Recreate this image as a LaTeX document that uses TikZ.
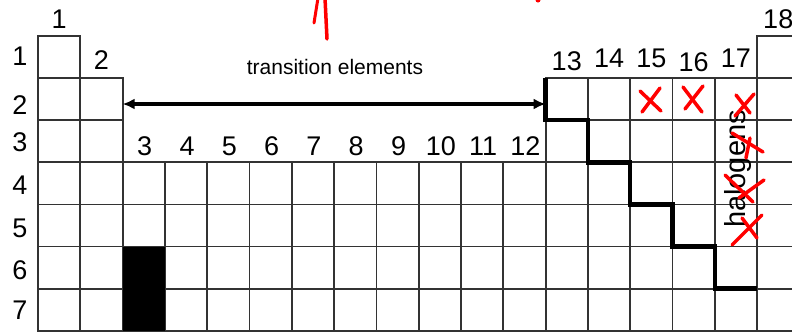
\documentclass[tikz,border=0pt]{standalone}
\usepackage{fontspec}
\setmainfont{Liberation Sans}
\usetikzlibrary{arrows.meta}

\begin{document}
\begin{tikzpicture}[x=1pt,y=-1pt, % 1 unité = 1 px de l'image, y vers le bas
  cellule/.style={draw=black!80, line width=1.8pt},
  chiffre/.style={font=\fontsize{27}{31}\selectfont, inner sep=0pt},
  fleche/.style={{Latex[length=12pt,width=11pt]}-{Latex[length=12pt,width=11pt]}, line width=3.3pt},
  escalier/.style={line width=4.5pt},
  croix/.style={red, line width=3.5pt, line cap=round}]

% --------- PARAMÈTRES ----------
\def\xo{38}     % bord gauche colonne 1
\def\yo{36}     % haut de la période 1
\def\cw{42.3}   % largeur d'une case
\def\rh{42.1}   % hauteur d'une case
% --------------------------------

\clip (0,0) rectangle (792,333);

% Cases : période 1
\foreach \c in {1,18}{
  \draw[cellule] ({\xo+(\c-1)*\cw},\yo) rectangle ++(\cw,\rh);
}
% Cases : périodes 2 et 3
\foreach \r in {2,3}{
  \foreach \c in {1,2,13,14,15,16,17,18}{
    \draw[cellule] ({\xo+(\c-1)*\cw},{\yo+(\r-1)*\rh}) rectangle ++(\cw,\rh);
  }
}
% Cases : périodes 4 à 7
\foreach \r in {4,...,7}{
  \foreach \c in {1,...,18}{
    \draw[cellule] ({\xo+(\c-1)*\cw},{\yo+(\r-1)*\rh}) rectangle ++(\cw,\rh);
  }
}

% Case noire (colonne 3, périodes 6-7)
\fill ({\xo+2*\cw},{\yo+5*\rh}) rectangle ++(\cw,{2*\rh});

% Numéros des groupes
\node[chiffre] (g1) at ({\xo+0.5*\cw},19) {1};
\node[chiffre] (g2) at ({\xo+1.5*\cw},60) {2};
\foreach \c in {3,...,12}{
  \node[chiffre] (g\c) at ({\xo+(\c-0.5)*\cw+1},146) {\c};
}
\foreach \c/\y in {13/61,14/58,15/58,16/62,17/58}{
  \node[chiffre] (g\c) at ({\xo+(\c-0.5)*\cw},\y) {\c};
}
\node[chiffre] (g18) at ({\xo+17.5*\cw},19) {18};

% Numéros des périodes
\foreach \r/\y in {1/56,2/105,3/142,4/185,5/228,6/270,7/310}{
  \node[chiffre] (p\r) at (20,\y) {\r};
}

% Éléments de transition
\node[font=\fontsize{21}{25}\selectfont] (trans) at (335,67) {transition elements};
\coordinate (tg) at ({\xo+2*\cw},104);
\coordinate (td) at ({\xo+12*\cw},104);
\draw[fleche] (tg) -- (td);

% Escalier métaux / non-métaux
\draw[escalier] ({\xo+12*\cw},{\yo+\rh}) -- ++(0,\rh) -- ++(\cw,0)
  -- ++(0,\rh) -- ++(\cw,0) -- ++(0,\rh) -- ++(\cw,0)
  -- ++(0,\rh) -- ++(\cw,0) -- ++(0,\rh) -- ++(\cw,0);

% Halogènes
\node[font=\fontsize{29}{34}\selectfont, rotate=90, anchor=base] (halo) at (745,169) {halogens};

% Annotations rouges
\draw[croix, line width=3pt] (318,-2) -- (314,23);
\draw[croix] (325,-2) -- (327,39);
\fill[red] (538,0) circle (2.5);
\foreach \a/\b/\cc/\d in {640/91/661/111, 660/88/642/112,
    683/87/702/112, 703/86/685/109,
    736/95/750/113, 754/94/735/116,
    732/133/763/152, 750/138/746/158,
    725/175/753/202, 764/180/739/198,
    742/218/757/238, 762/215/732/245}{
  \draw[croix] (\a,\b) -- (\cc,\d);
}

\end{tikzpicture}
\end{document}
